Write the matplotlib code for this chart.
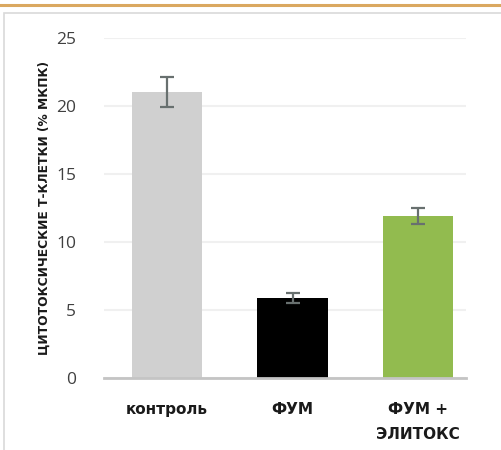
import matplotlib.pyplot as plt
from matplotlib.patches import Rectangle
from matplotlib.lines import Line2D

groups = ["контроль", "ФУМ", "ФУМ +\nЭЛИТОКС"]
values = [21.0, 5.9, 11.9]
errors = [1.1, 0.35, 0.6]
colors = ["#d0d0d0", "#000000", "#92bb4f"]
y_ticks = [0, 5, 10, 15, 20, 25]

fig = plt.figure(figsize=(5.01, 4.5), dpi=100)
W, H = 501.0, 450.0

# orange rule and light frame around the chart
fig.add_artist(Line2D([0, 1], [1 - 5 / H, 1 - 5 / H], color="#daa860", lw=2.2,
                      transform=fig.transFigure))
fig.add_artist(Rectangle((4 / W, -0.1), 1.2, 1 - 12.5 / H + 0.1, fill=False,
                         edgecolor="#d9d9d9", lw=1.2, transform=fig.transFigure))

ax = fig.add_axes([104 / W, 72 / H, 362 / W, 340 / H])
x = range(len(groups))
ax.bar(x, values, width=0.56, color=colors, zorder=2)
ax.errorbar(x, values, yerr=errors, fmt="none", ecolor="#68706f", elinewidth=1.6,
            capsize=5, capthick=1.6, zorder=3)

ax.set_xlim(-0.5, 2.38)
ax.set_ylim(0, 25)
ax.set_yticks(y_ticks)
ax.yaxis.grid(True, color="#f0f0f0", lw=1.5, zorder=0)
ax.set_axisbelow(True)
for s in ["top", "right", "left"]:
    ax.spines[s].set_visible(False)
ax.spines["bottom"].set_color("#c4c4c4")
ax.spines["bottom"].set_linewidth(2)
ax.spines["bottom"].set_zorder(4)
ax.tick_params(axis="y", length=0, pad=20, labelsize=12.5, labelcolor="#404040")
ax.tick_params(axis="x", length=0, pad=17)
ax.set_xticks(list(x))
ax.set_xticklabels(groups, fontsize=11, fontweight="bold", color="#1a1a1a",
                   va="top", linespacing=1.9)
for lab in ax.get_yticklabels():
    lab.set_fontfamily("Open Sans")
ax.set_ylabel("ЦИТОТОКСИЧЕСКИЕ Т-КЛЕТКИ (% МКПК)", fontsize=8.8, fontweight="bold",
              color="#1a1a1a")
ax.yaxis.set_label_coords(-53 / 362, 0.5)

fig.savefig("out.png", dpi=100)
